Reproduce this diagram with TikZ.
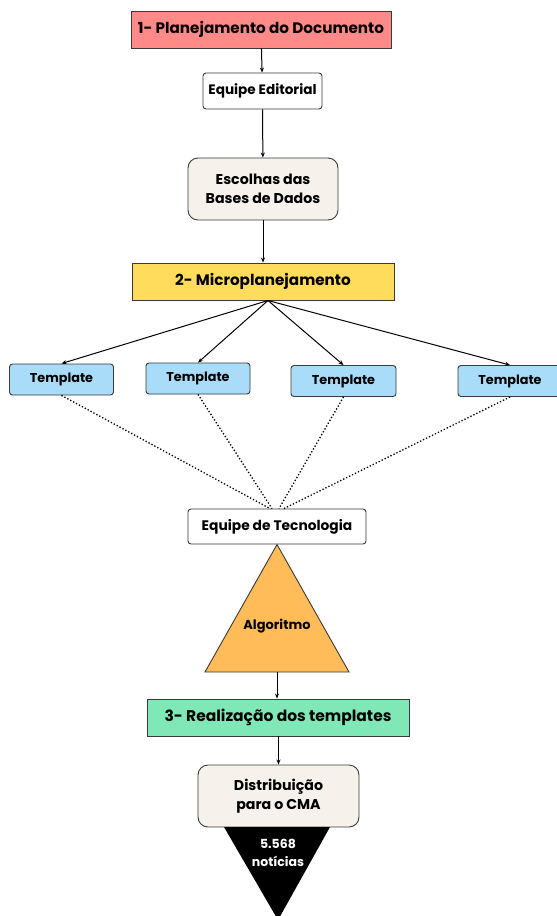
\documentclass[tikz,border=0pt]{standalone}
\usepackage{fontspec}
\setmainfont{Poppins}
\usetikzlibrary{arrows.meta}
\definecolor{redbox}{HTML}{FF8A88}
\definecolor{yelbox}{HTML}{FFDC5C}
\definecolor{grnbox}{HTML}{80E8B6}
\definecolor{bluebox}{HTML}{A8DCF8}
\definecolor{creambox}{HTML}{F6F2EB}
\definecolor{orangetri}{HTML}{FFBC58}
\definecolor{edge}{HTML}{3A3A3A}
\begin{document}
\begin{tikzpicture}[x=1pt,y=-1pt,
  box/.style={draw=edge,line width=0.9pt,inner sep=0pt,align=center,text=black,font=\bfseries},
  stage/.style={box,minimum width=260pt,minimum height=37pt,font=\bfseries\fontsize{15.2}{18}\selectfont},
  plain/.style={box,fill=white,rounded corners=3pt,font=\bfseries\fontsize{13.6}{16}\selectfont},
  cream/.style={box,fill=creambox,rounded corners=10pt,minimum width=150pt,minimum height=62pt,font=\bfseries\fontsize{14.2}{19.5}\selectfont},
  tpl/.style={box,fill=bluebox,rounded corners=3pt,minimum width=104pt,minimum height=31pt,font=\bfseries\fontsize{12.8}{14}\selectfont},
  arr/.style={draw=black,line width=1pt,-{Stealth[length=5pt,width=4pt]}},
  dots/.style={draw=black,line width=1.3pt,dotted}
]
\useasboundingbox (0,0) rectangle (557,916);

\node[stage,fill=redbox] (p1) at (261,29.5) {1- Planejamento do Documento};
\node[plain,minimum width=119pt,minimum height=36pt] (ed) at (262.5,91) {Equipe Editorial};
\node[cream] (esc) at (263,189) {Escolhas das\\Bases de Dados};
\node[stage,fill=yelbox,minimum width=262pt] (p2) at (263,281.5) {2- Microplanejamento};
\coordinate (hub) at (268,300.5);

\node[tpl] (t1) at (61.5,379.5) {Template};
\node[tpl] (t2) at (198,378.5) {Template};
\node[tpl,minimum width=105pt] (t3) at (343.5,381) {Template};
\node[tpl] (t4) at (510,381) {Template};

\node[plain,minimum width=178pt,minimum height=35pt,font=\bfseries\fontsize{13.8}{16}\selectfont] (tec) at (277,526.5) {Equipe de Tecnologia};

\coordinate (ta) at (277,544.5);
\coordinate (tl) at (205,672);
\coordinate (tr) at (349,672);
\coordinate (tb) at (277,672);
\draw[draw=edge,line width=0.9pt,fill=orangetri] (ta) -- (tr) -- (tl) -- cycle;
\node[font=\bfseries\fontsize{13}{15}\selectfont] (alg) at (277,626) {Algoritmo};

\node[stage,fill=grnbox,minimum width=262pt,font=\bfseries\fontsize{15.5}{18}\selectfont] (p3) at (278,717.5) {3- Realização dos templates};
\node[cream,minimum width=161pt] (dist) at (278.5,796) {Distribuição\\para o CMA};

\coordinate (bl) at (224,827);
\coordinate (br) at (330,827);
\coordinate (bb) at (278,920);
\fill[black] (bl) -- (br) -- (bb) -- cycle;
\node[text=white,font=\bfseries\fontsize{12.5}{18}\selectfont,align=center] (nt) at (278,853) {5.568\\notícias};

\draw[arr] (p1) -- (ed);
\draw[arr] (ed) -- (esc);
\draw[arr] (esc) -- (p2);
\draw[arr] (hub) -- (t1.north);
\draw[arr] (hub) -- (t2.north);
\draw[arr] (hub) -- (t3.north);
\draw[arr] (hub) -- (t4.north);

\draw[dots] (t1.south) -- ([xshift=-7pt]tec.north);
\draw[dots] (t2.south) -- ([xshift=-5pt]tec.north);
\draw[dots] (t3.south) -- ([xshift=2pt]tec.north);
\draw[dots] (t4.south) -- ([xshift=7pt]tec.north);

\draw[arr] (tb) -- (tb |- p3.north);
\draw[arr] (p3.south -| dist.north) -- (dist.north);
\end{tikzpicture}
\end{document}
